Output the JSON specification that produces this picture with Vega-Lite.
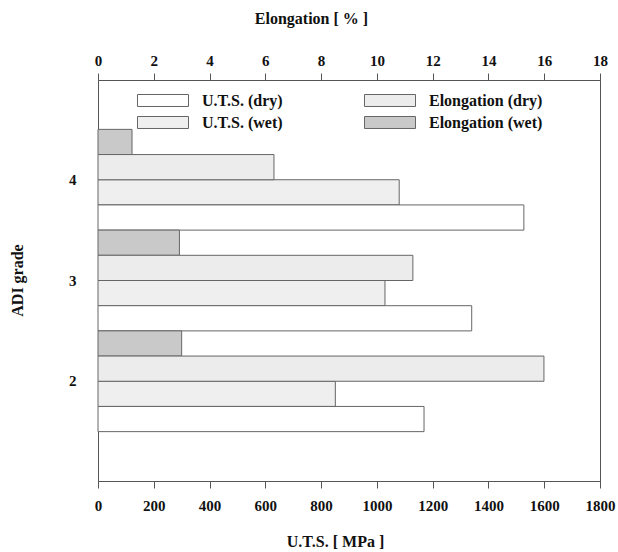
{
  "$schema": "https://vega.github.io/schema/vega-lite/v6.json",
  "autosize": {"type": "none"},
  "padding": {"left": 98, "top": 80, "right": 18, "bottom": 71},
  "width": 502,
  "height": 401,
  "background": "white",
  "config": {
    "view": {"stroke": "#555", "strokeWidth": 1},
    "font": "Liberation Serif",
    "axis": {
      "labelFont": "Liberation Serif",
      "labelFontWeight": "bold",
      "labelFontSize": 15,
      "labelColor": "#111",
      "titleFont": "Liberation Serif",
      "titleFontWeight": "bold",
      "titleFontSize": 16,
      "titleColor": "#111",
      "domainColor": "#555",
      "tickColor": "#555",
      "grid": false
    }
  },
  "data": {
    "values": [
      {"grade": 4, "series": "Elongation (wet)", "measure": "E", "value": 1.22},
      {"grade": 4, "series": "Elongation (dry)", "measure": "E", "value": 6.31},
      {"grade": 4, "series": "U.T.S. (wet)", "measure": "U", "value": 1080},
      {"grade": 4, "series": "U.T.S. (dry)", "measure": "U", "value": 1527},
      {"grade": 3, "series": "Elongation (wet)", "measure": "E", "value": 2.92},
      {"grade": 3, "series": "Elongation (dry)", "measure": "E", "value": 11.29},
      {"grade": 3, "series": "U.T.S. (wet)", "measure": "U", "value": 1029},
      {"grade": 3, "series": "U.T.S. (dry)", "measure": "U", "value": 1340},
      {"grade": 2, "series": "Elongation (wet)", "measure": "E", "value": 3.0},
      {"grade": 2, "series": "Elongation (dry)", "measure": "E", "value": 15.99},
      {"grade": 2, "series": "U.T.S. (wet)", "measure": "U", "value": 851},
      {"grade": 2, "series": "U.T.S. (dry)", "measure": "U", "value": 1169}
    ]
  },
  "encoding": {
    "y": {
      "field": "grade",
      "type": "ordinal",
      "scale": {"domain": [4, 3, 2], "paddingInner": 0, "paddingOuter": 0.49},
      "axis": {
        "title": "ADI grade",
        "titleFontSize": 16,
        "ticks": false,
        "domain": false,
        "labelPadding": 22,
        "labelAngle": 0,
        "titleX": -81,
        "titleY": 200,
        "titleAngle": -90,
        "titleBaseline": "middle",
        "titleAlign": "center"
      }
    },
    "yOffset": {
      "field": "series",
      "type": "nominal",
      "scale": {
        "domain": ["Elongation (wet)", "Elongation (dry)", "U.T.S. (wet)", "U.T.S. (dry)"],
        "paddingInner": 0,
        "paddingOuter": 0
      }
    },
    "fill": {
      "field": "series",
      "type": "nominal",
      "scale": {
        "domain": ["U.T.S. (dry)", "U.T.S. (wet)", "Elongation (dry)", "Elongation (wet)"],
        "range": ["#ffffff", "#efefef", "#ececec", "#c9c9c9"]
      },
      "legend": {
        "title": null,
        "orient": "none",
        "legendX": 57,
        "legendY": 12.5,
        "columns": 2,
        "columnPadding": 79,
        "rowPadding": 6,
        "symbolType": "M-4,-0.94L4,-0.94L4,0.94L-4,0.94Z",
        "symbolSize": 162.6,
        "symbolStrokeColor": "#666",
        "symbolStrokeWidth": 1,
        "labelFont": "Liberation Serif",
        "labelFontWeight": "bold",
        "labelFontSize": 16,
        "labelColor": "#111",
        "labelOffset": 31,
        "labelLimit": 300
      }
    }
  },
  "layer": [
    {
      "transform": [{"filter": "datum.measure === 'U'"}],
      "mark": {"type": "bar", "stroke": "#666", "strokeWidth": 1},
      "encoding": {
        "x": {
          "field": "value",
          "type": "quantitative",
          "scale": {"domain": [0, 1800], "nice": false},
          "axis": {
            "orient": "bottom",
            "title": "U.T.S. [ MPa ]",
            "format": "d",
            "values": [0, 200, 400, 600, 800, 1000, 1200, 1400, 1600, 1800],
            "tickSize": 7,
            "labelPadding": 10,
            "labelFlush": false,
            "titleX": 237,
            "titleY": 60,
            "titleBaseline": "middle",
            "titleAlign": "center"
          }
        }
      }
    },
    {
      "transform": [{"filter": "datum.measure === 'E'"}],
      "mark": {"type": "bar", "stroke": "#666", "strokeWidth": 1},
      "encoding": {
        "x": {
          "field": "value",
          "type": "quantitative",
          "scale": {"domain": [0, 18], "nice": false},
          "axis": {
            "orient": "top",
            "title": "Elongation [ % ]",
            "format": "d",
            "values": [0, 2, 4, 6, 8, 10, 12, 14, 16, 18],
            "tickSize": 7,
            "labelPadding": 5,
            "labelFlush": false,
            "titleX": 213,
            "titleY": -62,
            "titleBaseline": "middle",
            "titleAlign": "center"
          }
        }
      }
    }
  ],
  "resolve": {"scale": {"x": "independent"}}
}
